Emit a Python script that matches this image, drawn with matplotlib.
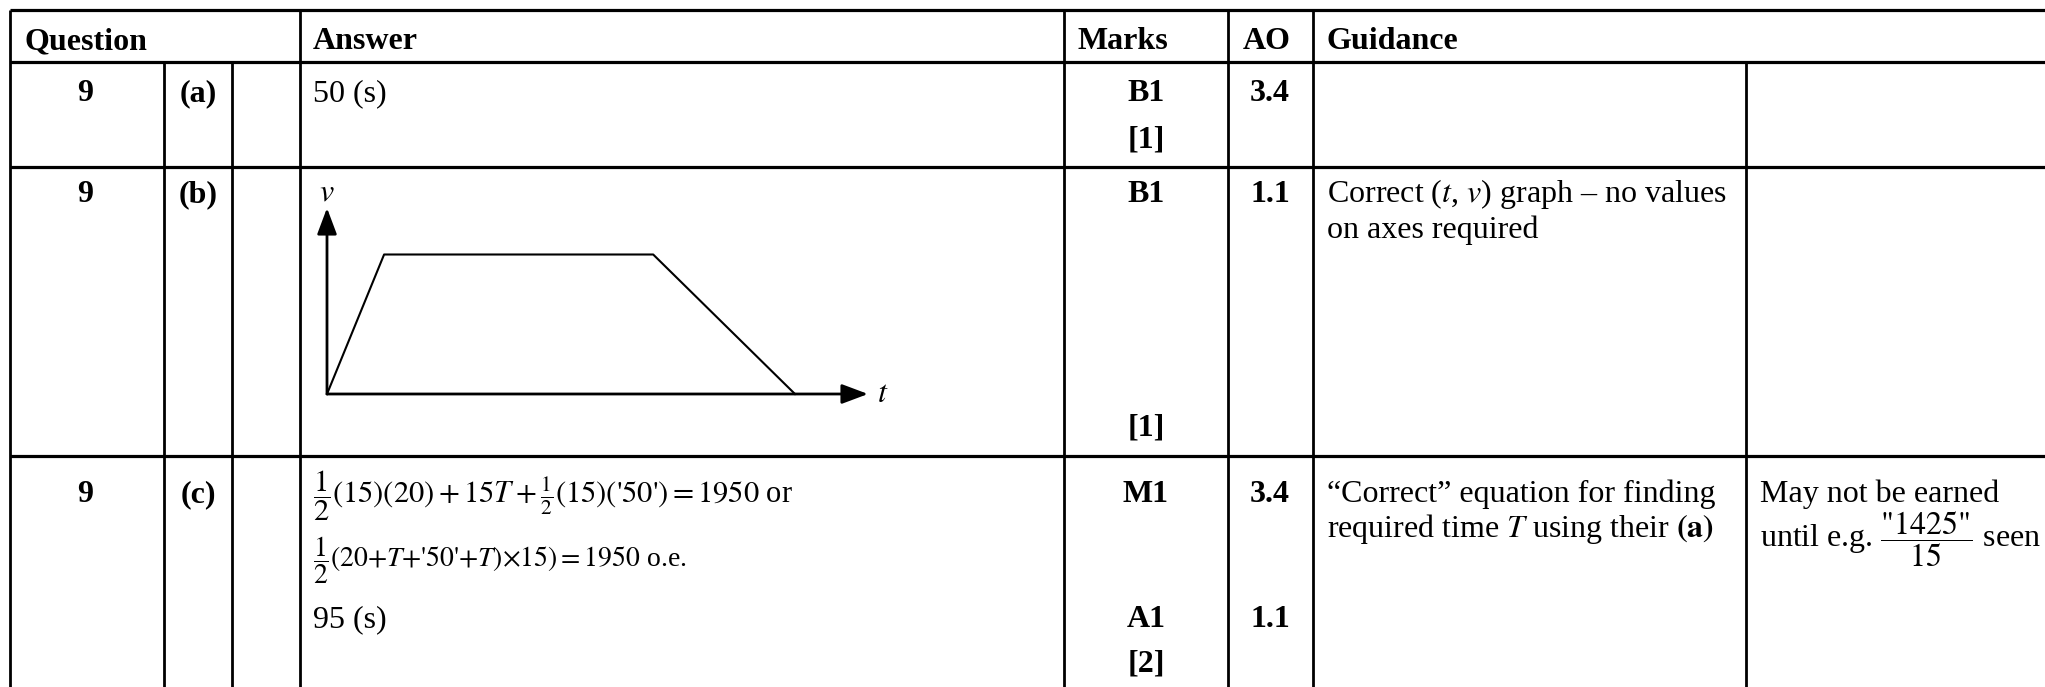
import numpy as np
import matplotlib.pyplot as plt

plt.rcParams['font.family'] = ['Liberation Serif', 'DejaVu Serif']
plt.rcParams['mathtext.fontset'] = 'stix'

# Table content
headers = ['Question', 'Answer', 'Marks', 'AO', 'Guidance']
question_nums = ['9', '9', '9']
parts = ['(a)', '(b)', '(c)']
marks = [['B1', '[1]'], ['B1', '[1]'], ['M1', 'A1', '[2]']]
ao_codes = [['3.4'], ['1.1'], ['3.4', '1.1']]
answers_a = ['50 (s)']
answers_c = [r"$\dfrac{1}{2}\left(15\right)\left(20\right)+15T+\frac{1}{2}\left(15\right)\left(\text{'50'}\right)=1950$ or",
             r"$\dfrac{1}{2}(20{+}T{+}\text{'50'}{+}T){\times}15){=}1950$ o.e.",
             '95 (s)']
answer_sizes = [22, 20, 23]
guidance_b = ['Correct ($t$, $v$) graph \u2013 no values', 'on axes required']
guidance_c = ['\u201cCorrect\u201d equation for finding', r'required time $T$ using their $\mathbf{(a)}$']
guidance_c2 = ['May not be earned', r'until e.g. $\dfrac{\text{"1425"}}{15}$ seen']

# v-t sketch (no values on axes)
graph_t = [0, 12.2, 69.7, 100]
graph_v = [0, 30, 30, 0]
t_axis_end = 115.6
v_axis_end = 40

W, H = 2045, 687
fig = plt.figure(figsize=(W / 100, H / 100), dpi=100)
ax = fig.add_axes([0, 0, 1, 1])
ax.set_xlim(0, W)
ax.set_ylim(H, 0)
ax.axis('off')

# grid lines
row_y = [10, 62, 167, 456]
for y in row_y:
    ax.plot([10, W], [y, y], color='black', lw=2.3, solid_capstyle='butt')
for x in [10, 300, 1064, 1228, 1313]:
    ax.plot([x, x], [10, H], color='black', lw=2.0, solid_capstyle='butt')
for x in [164, 232, 1746]:
    ax.plot([x, x], [62, H], color='black', lw=2.0, solid_capstyle='butt')

fs = 23
head_x = [25, 313, 1078, 1243, 1327]
for hx, h in zip(head_x, headers):
    ax.text(hx, 49, h, fontsize=fs, fontweight='bold', ha='left', va='baseline')

row_base = [101, 202, 502]
for i in range(3):
    ax.text(85, row_base[i], question_nums[i], fontsize=fs, fontweight='bold', ha='center', va='baseline')
    ax.text(198, row_base[i], parts[i], fontsize=fs, fontweight='bold', ha='center', va='baseline')

# marks and AO
marks_y = [[101, 148], [202, 436], [502, 627, 672]]
ao_y = [[101], [202], [502, 627]]
for i in range(3):
    for m, y in zip(marks[i], marks_y[i]):
        ax.text(1146, y, m, fontsize=fs, fontweight='bold', ha='center', va='baseline')
    for a, y in zip(ao_codes[i], ao_y[i]):
        ax.text(1270, y, a, fontsize=fs, fontweight='bold', ha='center', va='baseline')

# answers
ax.text(313, 101, answers_a[0], fontsize=fs, ha='left', va='baseline')
for s, y, f in zip(answers_c, [503, 567, 627], answer_sizes):
    ax.text(313, y, s, fontsize=f, ha='left', va='baseline')

# guidance
for s, y in zip(guidance_b, [202, 238]):
    ax.text(1327, y, s, fontsize=fs, ha='left', va='baseline')
for s, y in zip(guidance_c, [502, 537]):
    ax.text(1327, y, s, fontsize=fs, ha='left', va='baseline')
for s, y in zip(guidance_c2, [502, 547]):
    ax.text(1760, y, s, fontsize=fs, ha='left', va='baseline')

# v-t graph
gx0, gy0 = 327, 394
gw, gh = 541, 186
gax = fig.add_axes([gx0 / W, (H - gy0) / H, gw / W, gh / H])
gax.set_xlim(0, t_axis_end)
gax.set_ylim(0, v_axis_end)
gax.axis('off')
gax.plot(graph_t, graph_v, color='black', lw=1.5, clip_on=False)
arrow = dict(arrowstyle='-|>,head_length=0.8,head_width=0.3', mutation_scale=20,
             color='black', lw=2.0, shrinkA=0, shrinkB=0)
gax.annotate('', xy=(t_axis_end, 0), xytext=(0, 0), arrowprops=arrow, annotation_clip=False)
gax.annotate('', xy=(0, v_axis_end), xytext=(0, 0), arrowprops=arrow, annotation_clip=False)
gax.text(t_axis_end + 2, 0, '$t$', fontsize=fs, ha='left', va='center', clip_on=False)
gax.text(0, v_axis_end + 3.3, '$v$', fontsize=fs, ha='center', va='center', clip_on=False)

fig.savefig('out.png', dpi=100)
